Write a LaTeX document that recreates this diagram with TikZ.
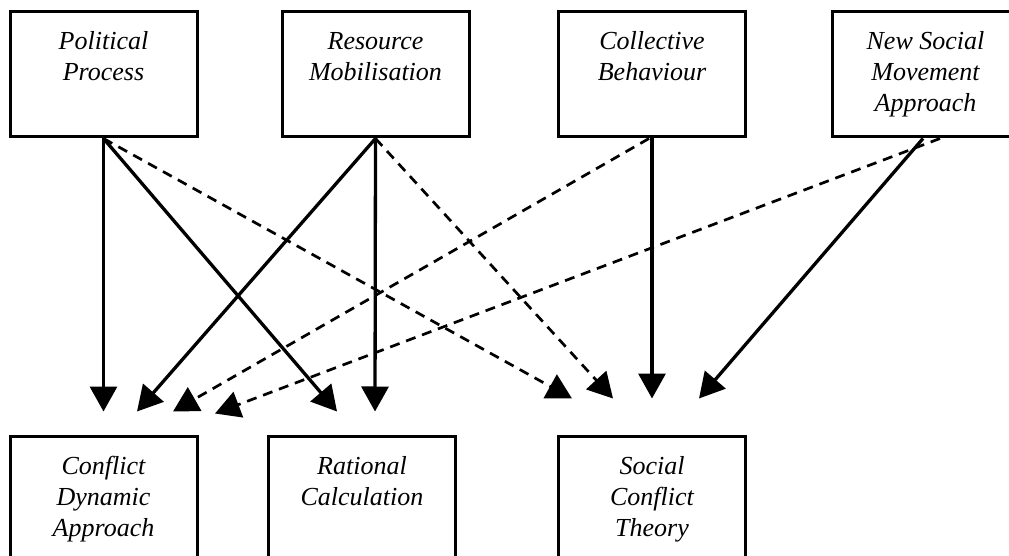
\documentclass[tikz,border=0pt]{standalone}
\usepackage{fontspec}
\setmainfont{Liberation Serif}
\usetikzlibrary{arrows.meta,calc}
\tikzset{
  box/.style={draw=black,line width=3pt,minimum width=187pt,minimum height=125pt,inner sep=0pt,fill=white},
  lbl/.style={anchor=north,align=center,inner sep=0pt,font=\fontsize{26}{31}\selectfont\itshape},
  solidarr/.style={line width=3.3pt,-{Triangle[length=25pt,width=27pt]}},
  dasharr/.style={line width=2.7pt,dash pattern=on 10pt off 7pt,-{Triangle[length=25pt,width=27pt]}}
}
\begin{document}
\begin{tikzpicture}[x=1pt,y=1pt]
\useasboundingbox (0,0) rectangle (1009,-556);
\clip (0,0) rectangle (1009,-556);
% top boxes
\node[box] (pp) at (103.5,-74.5) {};
\node[box] (rm) at (375.5,-74.5) {};
\node[box] (cb) at (652,-74.5) {};
\node[box] (nsm) at (925.5,-74.5) {};
% bottom boxes
\node[box] (cda) at (103.5,-498.5) {};
\node[box] (rc) at (362,-498.5) {};
\node[box] (sct) at (652,-498.5) {};
% labels
\node[lbl] (pptxt) at ($(pp.north)+(0,-17)$) {\strut Political\\Process};
\node[lbl] (rmtxt) at ($(rm.north)+(0,-17)$) {\strut Resource\\Mobilisation};
\node[lbl] (cbtxt) at ($(cb.north)+(0,-17)$) {\strut Collective\\Behaviour};
\node[lbl] (nsmtxt) at ($(nsm.north)+(0,-17)$) {\strut New Social\\Movement\\Approach};
\node[lbl] (cdatxt) at ($(cda.north)+(0,-18)$) {\strut Conflict\\Dynamic\\Approach};
\node[lbl] (rctxt) at ($(rc.north)+(0,-18)$) {\strut Rational\\Calculation};
\node[lbl] (scttxt) at ($(sct.north)+(0,-18)$) {\strut Social\\Conflict\\Theory};
% arrows
\draw[solidarr] (pp.south) -- ($(cda.north)+(0,23)$);
\draw[solidarr] (pp.south) -- ($(rc.north)+(-25,23)$);
\draw[dasharr] (pp.south) -- ($(sct.north)+(-80,36)$);
\draw[solidarr] (rm.south) -- ($(cda.north)+(33.5,23)$);
\draw[solidarr] (rm.south) -- ($(rc.north)+(13,23)$);
\draw[dasharr] (rm.south) -- ($(sct.north)+(-39,36)$);
\draw[dasharr] ($(cb.south)+(-3,0)$) -- ($(cda.north)+(69.5,23)$);
\draw[solidarr] (cb.south) -- ($(sct.north)+(0,36)$);
\draw[dasharr] ($(nsm.south)+(14.5,0)$) -- ($(cda.north)+(111.5,21)$);
\draw[solidarr] ($(nsm.south)+(-2.5,0)$) -- ($(sct.north)+(47,36)$);
\end{tikzpicture}
\end{document}
